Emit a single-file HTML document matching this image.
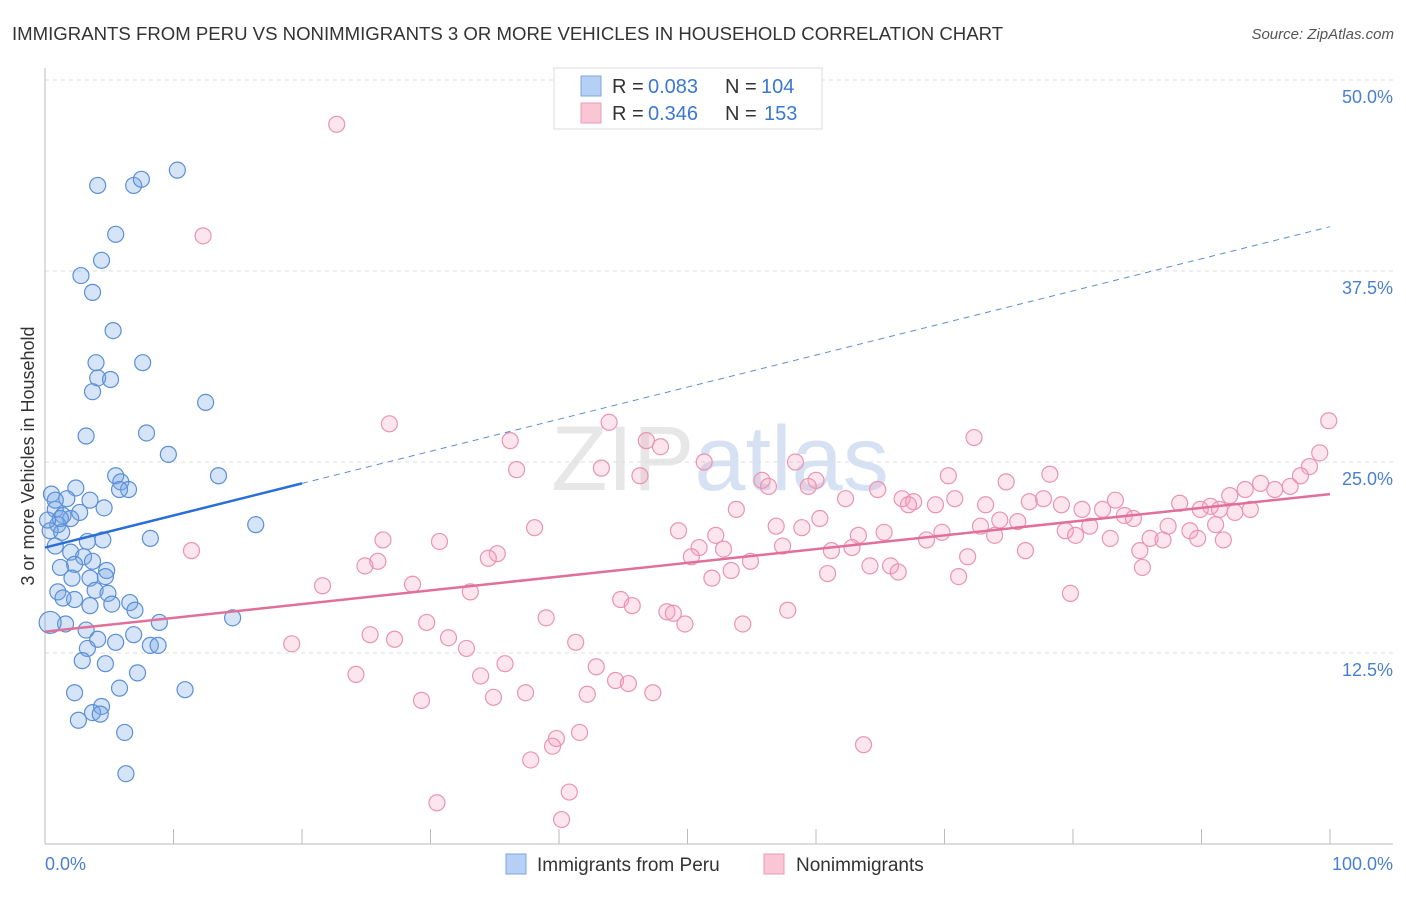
<!DOCTYPE html>
<html><head><meta charset="utf-8"><style>
body{margin:0;background:#fff;font-family:"Liberation Sans",sans-serif;}
svg text{font-family:"Liberation Sans",sans-serif;}
</style></head><body>
<svg id="chart" width="1406" height="892" xmlns="http://www.w3.org/2000/svg">
<text x="12" y="40" font-size="18.6" fill="#333">IMMIGRANTS FROM PERU VS NONIMMIGRANTS 3 OR MORE VEHICLES IN HOUSEHOLD CORRELATION CHART</text>
<text x="1394" y="39" font-size="15" fill="#555" text-anchor="end" font-style="italic">Source: ZipAtlas.com</text>
<text x="720" y="490" font-size="92" fill="#ddd" text-anchor="middle" font-family="Liberation Serif" opacity="0.7">ZIP<tspan fill="#c5d6ee">atlas</tspan></text>
<g id="grid"></g>
<g id="axes"></g>
<g id="marks"></g>
<g id="trends"></g>
<text transform="translate(34,456) rotate(-90)" font-size="18" fill="#333" text-anchor="middle">3 or more Vehicles in Household</text>
<text x="45" y="870" font-size="18" fill="#4a7fd0">0.0%</text>
<text x="1393" y="870" font-size="18" fill="#4a7fd0" text-anchor="end">100.0%</text>
<g>
<rect x="554" y="68" width="268" height="61" fill="#fff" stroke="#ddd"/>
<rect x="581" y="76" width="20" height="20" fill="#b5d0f4" stroke="#7aa6e0"/>
<rect x="581" y="103" width="20" height="20" fill="#f9c6d6" stroke="#eb9ab5"/>
<text x="612" y="93" font-size="20" fill="#333">R = </text><text x="648" y="93" font-size="20" fill="#3a78d4">0.083</text>
<text x="725" y="93" font-size="20" fill="#333">N = </text><text x="761" y="93" font-size="20" fill="#3a78d4">104</text>
<text x="612" y="120" font-size="20" fill="#333">R = </text><text x="648" y="120" font-size="20" fill="#3a78d4">0.346</text>
<text x="725" y="120" font-size="20" fill="#333">N = </text><text x="764" y="120" font-size="20" fill="#3a78d4">153</text>
</g>
<g>
<rect x="506" y="854" width="20" height="20" fill="#b5d0f4" stroke="#7aa6e0"/>
<text x="537" y="871" font-size="19" fill="#333">Immigrants from Peru</text>
<rect x="764" y="854" width="20" height="20" fill="#f9c6d6" stroke="#eb9ab5"/>
<text x="796" y="871" font-size="19" fill="#333">Nonimmigrants</text>
</g>
</svg>
<script>
const yTicks=[12.5,25,37.5,50];
const yTickLabels=["12.5%","25.0%","37.5%","50.0%"];
const xTicks=[0,10,20,30,40,50,60,70,80,90,100];
const peruX=[10.3,4.1,6.9,7.5,5.5,4.4,2.8,3.7,5.3,3.97,7.6,4.1,5.1,3.7,12.5,3.2,7.9,9.6,13.5,5.5,5.9,6.5,5.8,2.4,0.5,1.7,3.5,4.6,2.7,0.8,1.4,2.0,1.0,0.4,1.3,16.4,8.2,4.5,3.3,0.8,2.0,3.0,3.7,2.3,1.2,4.8,2.1,3.5,4.7,1.0,3.9,4.9,2.3,1.4,6.6,7.0,5.2,3.5,14.6,8.9,1.6,0.4,3.2,6.9,4.1,5.5,3.3,8.2,8.8,2.9,4.7,7.2,5.8,10.9,2.3,4.4,3.7,4.3,2.6,6.2,6.3,0.8,1.2,0.2];
const peruY=[44.1,43.1,43.1,43.5,39.9,38.2,37.2,36.1,33.6,31.5,31.5,30.5,30.4,29.6,28.9,26.7,26.9,25.5,24.1,24.1,23.7,23.2,23.2,23.3,22.9,22.6,22.5,22.0,21.7,21.9,21.5,21.3,20.9,20.5,20.4,20.9,20.0,19.9,19.8,19.5,19.1,18.8,18.5,18.3,18.1,17.9,17.4,17.4,17.5,16.5,16.6,16.4,16.0,16.1,15.8,15.3,15.7,15.6,14.8,14.5,14.4,14.5,14.0,13.7,13.4,13.2,12.8,13.0,13.0,12.0,11.8,11.2,10.2,10.1,9.9,9.0,8.6,8.5,8.1,7.3,4.6,22.5,21.3,21.2];
const nonX=[22.7,12.3,26.8,43.9,36.2,46.8,47.9,72.3,99.9,99.2,51.3,58.4,36.7,43.3,46.3,55.8,60.0,70.3,78.2,74.8,56.3,59.4,64.8,98.4,97.7,96.9,95.7,94.6,93.4,92.2,90.7,89.9,91.4,92.6,93.8,62.3,66.7,67.6,70.8,76.6,77.7,83.3,88.3,67.2,69.3,73.2,79.1,80.7,82.3,53.8,60.3,84.0,84.7,56.9,58.9,74.3,75.7,72.8,79.4,81.3,38.1,49.3,52.2,65.3,69.8,73.9,63.3,80.2,82.9,86.0,87.0,89.1,91.1,91.7,89.7,68.6,87.4,85.2,26.3,30.7,50.9,52.8,57.4,61.2,62.8,76.3,11.4,35.2,50.3,71.8,25.9,34.5,24.9,54.9,64.2,65.8,85.4,53.4,66.4,60.9,51.9,71.1,28.6,21.6,33.1,79.8,44.8,45.7,48.4,48.9,57.8,39.0,29.7,49.8,54.3,25.3,27.2,31.4,19.2,41.3,32.8,35.8,42.9,24.2,33.9,44.4,45.4,37.4,42.2,47.3,34.9,29.3,41.6,39.8,39.5,63.7,37.8,40.8,30.5,40.2];
const nonY=[47.1,39.8,27.5,27.6,26.4,26.4,26.0,26.6,27.7,25.6,25.0,25.0,24.5,24.6,24.1,23.8,23.8,24.1,24.2,23.7,23.4,23.4,23.2,24.7,24.1,23.4,23.2,23.6,23.2,22.8,22.1,21.9,21.9,21.7,21.9,22.6,22.6,22.4,22.6,22.4,22.6,22.5,22.3,22.2,22.2,22.2,22.2,21.9,21.9,21.9,21.3,21.5,21.3,20.8,20.7,21.2,21.1,20.8,20.5,20.8,20.7,20.5,20.2,20.4,20.4,20.2,20.2,20.2,20.0,20.0,19.9,20.5,20.9,19.9,20.0,19.9,20.8,19.2,19.9,19.8,19.4,19.3,19.5,19.2,19.4,19.2,19.2,19.0,18.8,18.8,18.5,18.7,18.2,18.5,18.2,18.2,18.1,17.9,17.8,17.7,17.4,17.5,17.0,16.9,16.5,16.4,16.0,15.6,15.2,15.1,15.3,14.8,14.5,14.4,14.4,13.7,13.4,13.5,13.1,13.2,12.8,11.8,11.6,11.1,11.0,10.7,10.5,9.9,9.8,9.9,9.6,9.4,7.3,6.9,6.4,6.5,5.5,3.4,2.7,1.6];
const peruTrend=[19.4,40.4];
const nonTrend=[13.9,22.9];
const NS="http://www.w3.org/2000/svg";
const X=v=>45+v*12.85, Y=v=>844-v*15.28;
function mk(t,a,p){const e=document.createElementNS(NS,t);for(const k in a)e.setAttribute(k,a[k]);p.appendChild(e);return e;}
const grid=document.getElementById('grid'),axes=document.getElementById('axes'),marks=document.getElementById('marks'),trends=document.getElementById('trends');
yTicks.forEach((v,i)=>{
 const l=mk('line',{x1:45,x2:1393,y1:Y(v),y2:Y(v),stroke:'#ddd','stroke-dasharray':'4,4'},grid);
 
 
 const t=mk('text',{x:1393,y:Y(v)+23,'font-size':18,fill:'#4a7fd0','text-anchor':'end'},axes);
 t.textContent=yTickLabels[i];
 
 
});
const ax=mk('line',{x1:45,x2:45,y1:68,y2:844,stroke:'#bbb'},axes);


const bx=mk('line',{x1:45,x2:1393,y1:844,y2:844,stroke:'#bbb'},axes);


xTicks.forEach(v=>{
 const t=mk('line',{x1:X(v),x2:X(v),y1:829,y2:844,stroke:'#bbb'},axes);
 
 
});
nonX.forEach((v,i)=>{
 const c=mk('circle',{cx:X(v),cy:Y(nonY[i]),r:8,fill:'rgba(245,160,190,0.28)',stroke:'#e994b2','stroke-width':1.2},marks);
 
 
});
peruX.forEach((v,i)=>{
 const big=(i===61);
 const c=mk('circle',{cx:X(v),cy:Y(peruY[i]),r:big?11:8,fill:'rgba(120,165,230,0.3)',stroke:'#5b8fd6','stroke-width':1.2},marks);
 
 
});
const pv=x=>peruTrend[0]+(peruTrend[1]-peruTrend[0])*x/100;
const t1=mk('line',{x1:X(0),y1:Y(pv(0)),x2:X(20),y2:Y(pv(20)),stroke:'#2a6fd6','stroke-width':2.5},trends);


const t2=mk('line',{x1:X(20),y1:Y(pv(20)),x2:X(100),y2:Y(pv(100)),stroke:'#5b8fd6','stroke-width':1,'stroke-dasharray':'6,5'},trends);


const t3=mk('line',{x1:X(0),y1:Y(nonTrend[0]),x2:X(100),y2:Y(nonTrend[1]),stroke:'#e0709a','stroke-width':2.5},trends);


</script>
</body></html>
